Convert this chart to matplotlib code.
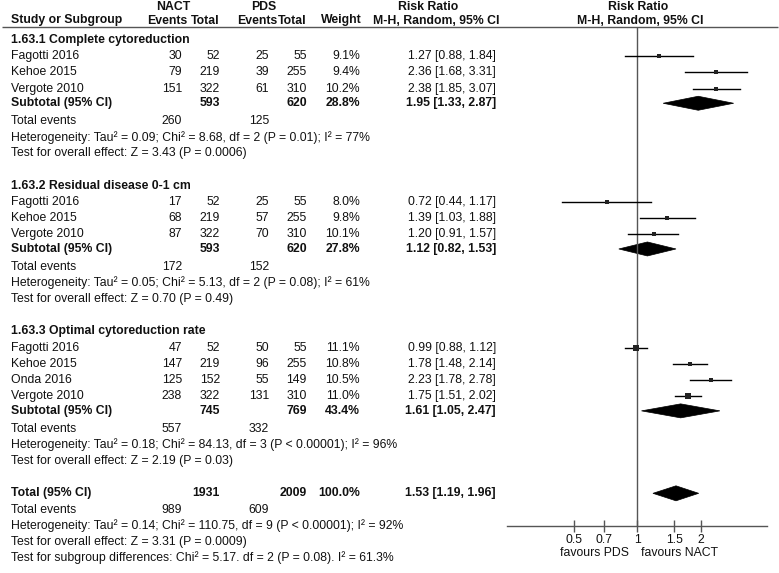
import matplotlib
matplotlib.use('Agg')
import matplotlib.pyplot as plt
from matplotlib.patches import Polygon
from matplotlib.ticker import FixedLocator, NullLocator, FixedFormatter

plt.rcParams['font.family'] = ['Liberation Sans', 'DejaVu Sans']

# ---------------- data ----------------
group_titles = ["1.63.1 Complete cytoreduction",
                "1.63.2 Residual disease 0-1 cm",
                "1.63.3 Optimal cytoreduction rate"]

g1_studies = ["Fagotti 2016", "Kehoe 2015", "Vergote 2010"]
g1_nact_ev = [30, 79, 151]
g1_nact_n = [52, 219, 322]
g1_pds_ev = [25, 39, 61]
g1_pds_n = [55, 255, 310]
g1_weight = [9.1, 9.4, 10.2]
g1_rr = [1.27, 2.36, 2.38]
g1_lo = [0.88, 1.68, 1.85]
g1_hi = [1.84, 3.31, 3.07]

g2_studies = ["Fagotti 2016", "Kehoe 2015", "Vergote 2010"]
g2_nact_ev = [17, 68, 87]
g2_nact_n = [52, 219, 322]
g2_pds_ev = [25, 57, 70]
g2_pds_n = [55, 255, 310]
g2_weight = [8.0, 9.8, 10.1]
g2_rr = [0.72, 1.39, 1.20]
g2_lo = [0.44, 1.03, 0.91]
g2_hi = [1.17, 1.88, 1.57]

g3_studies = ["Fagotti 2016", "Kehoe 2015", "Onda 2016", "Vergote 2010"]
g3_nact_ev = [47, 147, 125, 238]
g3_nact_n = [52, 219, 152, 322]
g3_pds_ev = [50, 96, 55, 131]
g3_pds_n = [55, 255, 149, 310]
g3_weight = [11.1, 10.8, 10.5, 11.0]
g3_rr = [0.99, 1.78, 2.23, 1.75]
g3_lo = [0.88, 1.48, 1.78, 1.51]
g3_hi = [1.12, 2.14, 2.78, 2.02]

sub_nact_n = [593, 593, 745]
sub_pds_n = [620, 620, 769]
sub_weight = [28.8, 27.8, 43.4]
sub_rr = [1.95, 1.12, 1.61]
sub_lo = [1.33, 0.82, 1.05]
sub_hi = [2.87, 1.53, 2.47]
sub_nact_events = [260, 172, 557]
sub_pds_events = [125, 152, 332]
sub_het = ["Heterogeneity: Tau\u00b2 = 0.09; Chi\u00b2 = 8.68, df = 2 (P = 0.01); I\u00b2 = 77%",
           "Heterogeneity: Tau\u00b2 = 0.05; Chi\u00b2 = 5.13, df = 2 (P = 0.08); I\u00b2 = 61%",
           "Heterogeneity: Tau\u00b2 = 0.18; Chi\u00b2 = 84.13, df = 3 (P < 0.00001); I\u00b2 = 96%"]
sub_test = ["Test for overall effect: Z = 3.43 (P = 0.0006)",
            "Test for overall effect: Z = 0.70 (P = 0.49)",
            "Test for overall effect: Z = 2.19 (P = 0.03)"]

tot_nact_n = 1931
tot_pds_n = 2009
tot_weight = 100.0
tot_rr, tot_lo, tot_hi = 1.53, 1.19, 1.96
tot_nact_events = 989
tot_pds_events = 609
tot_het = "Heterogeneity: Tau\u00b2 = 0.14; Chi\u00b2 = 110.75, df = 9 (P < 0.00001); I\u00b2 = 92%"
tot_test = "Test for overall effect: Z = 3.31 (P = 0.0009)"
subgroup_test = "Test for subgroup differences: Chi\u00b2 = 5.17. df = 2 (P = 0.08). I\u00b2 = 61.3%"

tick_vals = [0.5, 0.7, 1, 1.5, 2]
tick_labels = ["0.5", "0.7", "1", "1.5", "2"]

groups = [
    (g1_studies, g1_nact_ev, g1_nact_n, g1_pds_ev, g1_pds_n, g1_weight, g1_rr, g1_lo, g1_hi),
    (g2_studies, g2_nact_ev, g2_nact_n, g2_pds_ev, g2_pds_n, g2_weight, g2_rr, g2_lo, g2_hi),
    (g3_studies, g3_nact_ev, g3_nact_n, g3_pds_ev, g3_pds_n, g3_weight, g3_rr, g3_lo, g3_hi),
]

# ---------------- layout ----------------
W, H = 779, 573
fig = plt.figure(figsize=(W / 100, H / 100), dpi=100)
ax = fig.add_axes([0, 0, 1, 1])
ax.set_xlim(0, W)
ax.set_ylim(H, 0)
ax.axis('off')

FS = 8.8
TXT = '#111111'
GRAY = '#555555'

X_NAME = 11
X_NEV = 182
X_NN = 220
X_PEV = 269
X_PN = 307
X_W = 360
X_RR = 496

Y0 = 40.0
DY = 16.19


def row_y(r):
    return Y0 + r * DY


def t(x, y, s, ha='left', bold=False):
    ax.text(x, y, s, ha=ha, va='center', fontsize=FS, color=TXT,
            fontweight='bold' if bold else 'normal')


def ci_text(rr, lo, hi):
    return f"{rr:.2f} [{lo:.2f}, {hi:.2f}]"


# headers
t(173, 6.5, "NACT", ha='center', bold=True)
t(263.5, 6.5, "PDS", ha='center', bold=True)
t(428, 6.5, "Risk Ratio", ha='center', bold=True)
t(638, 6.5, "Risk Ratio", ha='center', bold=True)
t(X_NAME, 20.5, "Study or Subgroup", bold=True)
t(187, 20.5, "Events", ha='right', bold=True)
t(X_NN, 20.5, "Total", ha='right', bold=True)
t(277, 20.5, "Events", ha='right', bold=True)
t(X_PN, 20.5, "Total", ha='right', bold=True)
t(362, 20.5, "Weight", ha='right', bold=True)
t(436, 20.5, "M-H, Random, 95% CI", ha='center', bold=True)
t(640, 20.5, "M-H, Random, 95% CI", ha='center', bold=True)
ax.plot([2, 778], [26.7, 26.7], color=GRAY, lw=1.0, solid_capstyle='butt')

# forest axes
FX0, FX1 = 507, 767
FY0, FY1 = 27, 526
fx = fig.add_axes([FX0 / W, (H - FY1) / H, (FX1 - FX0) / W, (FY1 - FY0) / H])
fx.set_xscale('log')
fx.set_xlim(0.242, 4.13)
fx.set_ylim(FY1, FY0)
fx.patch.set_alpha(0)
for s in ['top', 'left', 'right']:
    fx.spines[s].set_visible(False)
fx.spines['bottom'].set_color(GRAY)
fx.spines['bottom'].set_linewidth(1.0)
fx.yaxis.set_major_locator(NullLocator())
fx.xaxis.set_major_locator(FixedLocator(tick_vals))
fx.xaxis.set_major_formatter(FixedFormatter(tick_labels))
fx.xaxis.set_minor_locator(NullLocator())
fx.tick_params(axis='x', direction='inout', length=8, width=1.0, color=GRAY,
               labelsize=FS, labelcolor=TXT, pad=1.5)
fx.axvline(1, color=GRAY, lw=1.0)


def diamond(y, est, lo, hi, half=7.0):
    fx.add_patch(Polygon([(lo, y), (est, y - half), (hi, y), (est, y + half)],
                         closed=True, facecolor='black', edgecolor='black', lw=0.5))


r = 0
for gi, g in enumerate(groups):
    studies, nev, nn, pev, pn, w, rr, lo, hi = g
    t(X_NAME, row_y(r), group_titles[gi], bold=True)
    r += 1
    for i in range(len(studies)):
        y = row_y(r)
        t(X_NAME, y, studies[i])
        t(X_NEV, y, str(nev[i]), ha='right')
        t(X_NN, y, str(nn[i]), ha='right')
        t(X_PEV, y, str(pev[i]), ha='right')
        t(X_PN, y, str(pn[i]), ha='right')
        t(X_W, y, f"{w[i]:.1f}%", ha='right')
        t(X_RR, y, ci_text(rr[i], lo[i], hi[i]), ha='right')
        fx.plot([lo[i], hi[i]], [y, y], color='black', lw=1.0)
        fx.plot([rr[i]], [y], marker='s', color='#222222', ms=w[i] * 0.33, mew=0)
        r += 1
    y = row_y(r) - 1.5
    t(X_NAME, y, "Subtotal (95% CI)", bold=True)
    t(X_NN, y, str(sub_nact_n[gi]), ha='right', bold=True)
    t(X_PN, y, str(sub_pds_n[gi]), ha='right', bold=True)
    t(X_W, y, f"{sub_weight[gi]:.1f}%", ha='right', bold=True)
    t(X_RR, y, ci_text(sub_rr[gi], sub_lo[gi], sub_hi[gi]), ha='right', bold=True)
    diamond(y, sub_rr[gi], sub_lo[gi], sub_hi[gi])
    r += 1
    y = row_y(r)
    t(X_NAME, y, "Total events")
    t(X_NEV, y, str(sub_nact_events[gi]), ha='right')
    t(X_PEV, y, str(sub_pds_events[gi]), ha='right')
    r += 1
    t(X_NAME, row_y(r), sub_het[gi])
    r += 1
    t(X_NAME, row_y(r), sub_test[gi])
    r += 2

y = row_y(r)
t(X_NAME, y, "Total (95% CI)", bold=True)
t(X_NN, y, str(tot_nact_n), ha='right', bold=True)
t(X_PN, y, str(tot_pds_n), ha='right', bold=True)
t(X_W, y, f"{tot_weight:.1f}%", ha='right', bold=True)
t(X_RR, y, ci_text(tot_rr, tot_lo, tot_hi), ha='right', bold=True)
diamond(y, tot_rr, tot_lo, tot_hi, half=7.5)
r += 1
y = row_y(r)
t(X_NAME, y, "Total events")
t(X_NEV, y, str(tot_nact_events), ha='right')
t(X_PEV, y, str(tot_pds_events), ha='right')
r += 1
t(X_NAME, row_y(r), tot_het)
r += 1
t(X_NAME, row_y(r), tot_test)
r += 1
t(X_NAME, row_y(r), subgroup_test)

# favours labels
t(595, 553, "favours PDS", ha='center')
t(680, 553, "favours NACT", ha='center')

fig.savefig('out.png', dpi=100)
